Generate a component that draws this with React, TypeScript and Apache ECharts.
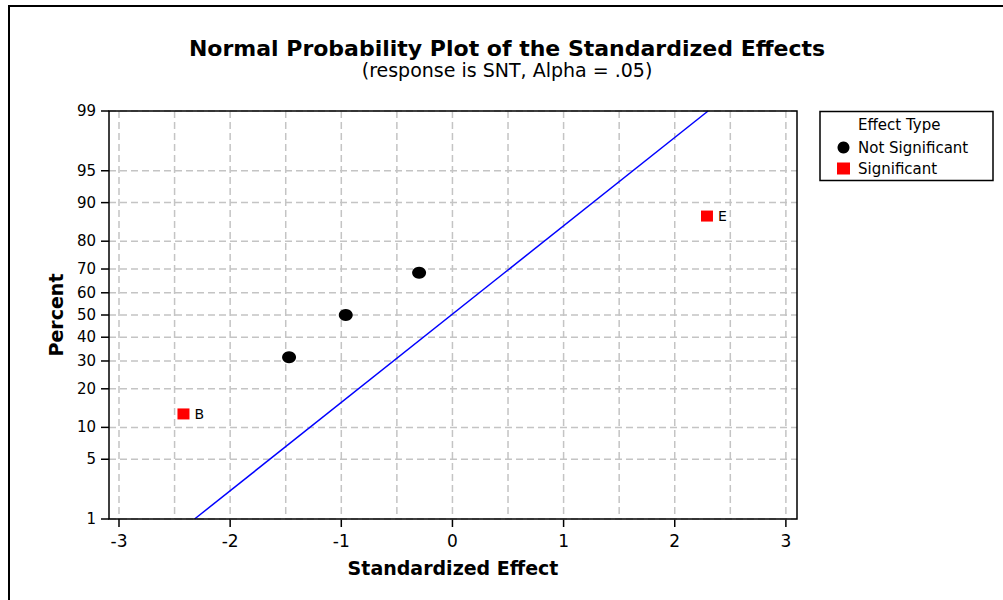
import React, { useEffect, useRef } from "react";
import * as echarts from "echarts";

// ---- data ----
const percentTicks = [1, 5, 10, 20, 30, 40, 50, 60, 70, 80, 90, 95, 99];
const effectGridValues = [-3, -2.5, -2, -1.5, -1, -0.5, 0, 0.5, 1, 1.5, 2, 2.5, 3];
const effectTickLabels = [-3, -2, -1, 0, 1, 2, 3];

const notSigEffects = [-1.47, -0.96, -0.3];
const notSigPercents = [31.48, 50, 68.52];

const sigNames = ["B", "E"];
const sigEffects = [-2.42, 2.29];
const sigPercents = [12.96, 87.04];

const fitEffects = [-2.32, 2.3];
const fitPercents = [1, 99];

const legendNames = ["Not Significant", "Significant"];

// inverse standard normal CDF (Acklam) – maps percent onto the probability scale
function probit(p: number): number {
  const a = [-3.969683028665376e1, 2.209460984245205e2, -2.759285104469687e2, 1.38357751867269e2, -3.066479806614716e1, 2.506628277459239];
  const b = [-5.447609879822406e1, 1.615858368580409e2, -1.556989798598866e2, 6.680131188771972e1, -1.328068155288572e1];
  const c = [-7.784894002430293e-3, -3.223964580411365e-1, -2.400758277161838, -2.549732539343734, 4.374664141464968, 2.938163982698783];
  const d = [7.784695709041462e-3, 3.224671290700398e-1, 2.445134137142996, 3.754408661907416];
  const pl = 0.02425;
  if (p < pl) {
    const q = Math.sqrt(-2 * Math.log(p));
    return (((((c[0] * q + c[1]) * q + c[2]) * q + c[3]) * q + c[4]) * q + c[5]) / ((((d[0] * q + d[1]) * q + d[2]) * q + d[3]) * q + 1);
  }
  if (p > 1 - pl) {
    const q = Math.sqrt(-2 * Math.log(1 - p));
    return -(((((c[0] * q + c[1]) * q + c[2]) * q + c[3]) * q + c[4]) * q + c[5]) / ((((d[0] * q + d[1]) * q + d[2]) * q + d[3]) * q + 1);
  }
  const q = p - 0.5;
  const r = q * q;
  return ((((((a[0] * r + a[1]) * r + a[2]) * r + a[3]) * r + a[4]) * r + a[5]) * q) / (((((b[0] * r + b[1]) * r + b[2]) * r + b[3]) * r + b[4]) * r + 1);
}

const FONT = '"DejaVu Sans", Verdana, sans-serif';
const X_MIN = -3.09;
const X_MAX = 3.1;
const Y_MIN = probit(0.01);
const Y_MAX = probit(0.99);

export default function App() {
  const ref = useRef<HTMLDivElement>(null);

  useEffect(() => {
    if (!ref.current) return;
    const chart = echarts.init(ref.current, undefined, { renderer: "svg" });

    const option: any = {
      animation: false,
      backgroundColor: "#fff",
      textStyle: { fontFamily: FONT, color: "#000" },
      title: {
        text: "Normal Probability Plot of the Standardized Effects",
        subtext: "(response is SNT, Alpha = .05)",
        left: 502,
        top: 32,
        textAlign: "center",
        itemGap: 1,
        textStyle: { fontFamily: FONT, fontWeight: "bold", fontSize: 22, color: "#000" },
        subtextStyle: { fontFamily: FONT, fontSize: 19, color: "#000" },
      },
      grid: {
        left: 109,
        top: 111,
        width: 688,
        height: 408,
        show: true,
        borderColor: "#000",
        borderWidth: 1.5,
        backgroundColor: "transparent",
        z: 10,
      },
      xAxis: {
        type: "value",
        min: X_MIN,
        max: X_MAX,
        name: "Standardized Effect",
        nameLocation: "middle",
        nameGap: 39,
        nameTextStyle: { fontFamily: FONT, fontWeight: "bold", fontSize: 19, color: "#000" },
        axisLine: { show: false },
        axisTick: { show: false },
        axisLabel: { show: false },
        splitLine: { show: false },
      },
      yAxis: {
        type: "value",
        min: Y_MIN,
        max: Y_MAX,
        name: "Percent",
        nameLocation: "middle",
        nameGap: 44,
        nameTextStyle: { fontFamily: FONT, fontWeight: "bold", fontSize: 19, color: "#000" },
        axisLine: { show: false },
        axisTick: { show: false },
        axisLabel: { show: false },
        splitLine: { show: false },
      },
      legend: {
        data: [
          { name: legendNames[0], icon: "circle" },
          { name: legendNames[1], icon: "rect" },
        ],
        orient: "vertical",
        left: 832,
        top: 135,
        itemWidth: 13,
        itemHeight: 12,
        itemGap: 6,
        selectedMode: false,
        itemStyle: { opacity: 1 },
        textStyle: { fontFamily: FONT, fontSize: 15, color: "#000", padding: [0, 0, 0, 3] },
      },
      graphic: [
        {
          type: "rect",
          shape: { x: 9, y: 6, width: 1100, height: 700 },
          style: { fill: "none", stroke: "#000", lineWidth: 2 },
          silent: true,
        },
        {
          type: "rect",
          shape: { x: 820, y: 111.5, width: 173, height: 69 },
          style: { fill: "none", stroke: "#000", lineWidth: 1.5 },
          silent: true,
        },
        {
          type: "text",
          x: 858,
          y: 125,
          style: { text: "Effect Type", font: `15px ${FONT}`, fill: "#000", verticalAlign: "middle" },
          silent: true,
        },
      ],
      series: [
        {
          type: "custom",
          name: "xgrid",
          silent: true,
          z: 1,
          data: effectGridValues.map((v) => [v, Y_MIN]),
          renderItem: (params: any, api: any) => {
            const v = effectGridValues[params.dataIndex];
            const top = api.coord([v, Y_MAX]);
            const bot = api.coord([v, Y_MIN]);
            return {
              type: "line",
              shape: { x1: top[0], y1: top[1], x2: bot[0], y2: bot[1] },
              style: { stroke: "#c4c4c4", lineWidth: 1.5, lineDash: [7, 4] },
            };
          },
        },
        {
          type: "custom",
          name: "xticks",
          silent: true,
          z: 1,
          data: effectTickLabels.map((v) => [v, Y_MIN]),
          renderItem: (params: any, api: any) => {
            const v = effectTickLabels[params.dataIndex];
            const bot = api.coord([v, Y_MIN]);
            return {
              type: "group",
              children: [
                {
                  type: "line",
                  shape: { x1: bot[0], y1: bot[1], x2: bot[0], y2: bot[1] + 8 },
                  style: { stroke: "#000", lineWidth: 1.5 },
                },
                {
                  type: "text",
                  x: bot[0],
                  y: bot[1] + 13,
                  style: { text: String(v), font: `17px ${FONT}`, fill: "#000", align: "center", verticalAlign: "top" },
                },
              ],
            };
          },
        },
        {
          type: "custom",
          name: "yticks",
          silent: true,
          z: 1,
          data: percentTicks.map((p) => [X_MIN, probit(p / 100)]),
          renderItem: (params: any, api: any) => {
            const p = percentTicks[params.dataIndex];
            const z = probit(p / 100);
            const l = api.coord([X_MIN, z]);
            const r = api.coord([X_MAX, z]);
            return {
              type: "group",
              children: [
                {
                  type: "line",
                  shape: { x1: l[0], y1: l[1], x2: r[0], y2: r[1] },
                  style: { stroke: "#c4c4c4", lineWidth: 1.5, lineDash: [7, 4] },
                },
                {
                  type: "line",
                  shape: { x1: l[0] - 8, y1: l[1], x2: l[0], y2: l[1] },
                  style: { stroke: "#000", lineWidth: 1.5 },
                },
                {
                  type: "text",
                  x: l[0] - 13,
                  y: l[1],
                  style: { text: String(p), font: `15px ${FONT}`, fill: "#000", align: "right", verticalAlign: "middle" },
                },
              ],
            };
          },
        },
        {
          type: "line",
          name: "fit",
          z: 3,
          silent: true,
          showSymbol: false,
          data: fitEffects.map((e, i) => [e, probit(fitPercents[i] / 100)]),
          lineStyle: { color: "#0000ff", width: 1.5 },
        },
        {
          type: "scatter",
          name: legendNames[0],
          z: 4,
          symbol: "circle",
          symbolSize: [14, 12],
          itemStyle: { color: "#000", opacity: 1 },
          data: notSigEffects.map((e, i) => [e, probit(notSigPercents[i] / 100)]),
        },
        {
          type: "scatter",
          name: legendNames[1],
          z: 4,
          symbol: "rect",
          symbolSize: [12, 11],
          itemStyle: { color: "#ff0000", opacity: 1 },
          label: {
            show: true,
            position: "right",
            distance: 5,
            formatter: (p: any) => p.name,
            fontFamily: FONT,
            fontSize: 14,
            color: "#000",
          },
          data: sigEffects.map((e, i) => ({ name: sigNames[i], value: [e, probit(sigPercents[i] / 100)] })),
        },
      ],
    };

    chart.setOption(option);
    return () => chart.dispose();
  }, []);

  return (
    <div
      ref={ref}
      style={{ position: "fixed", left: 0, top: 0, width: 1003, height: 600, background: "#fff" }}
    />
  );
}
